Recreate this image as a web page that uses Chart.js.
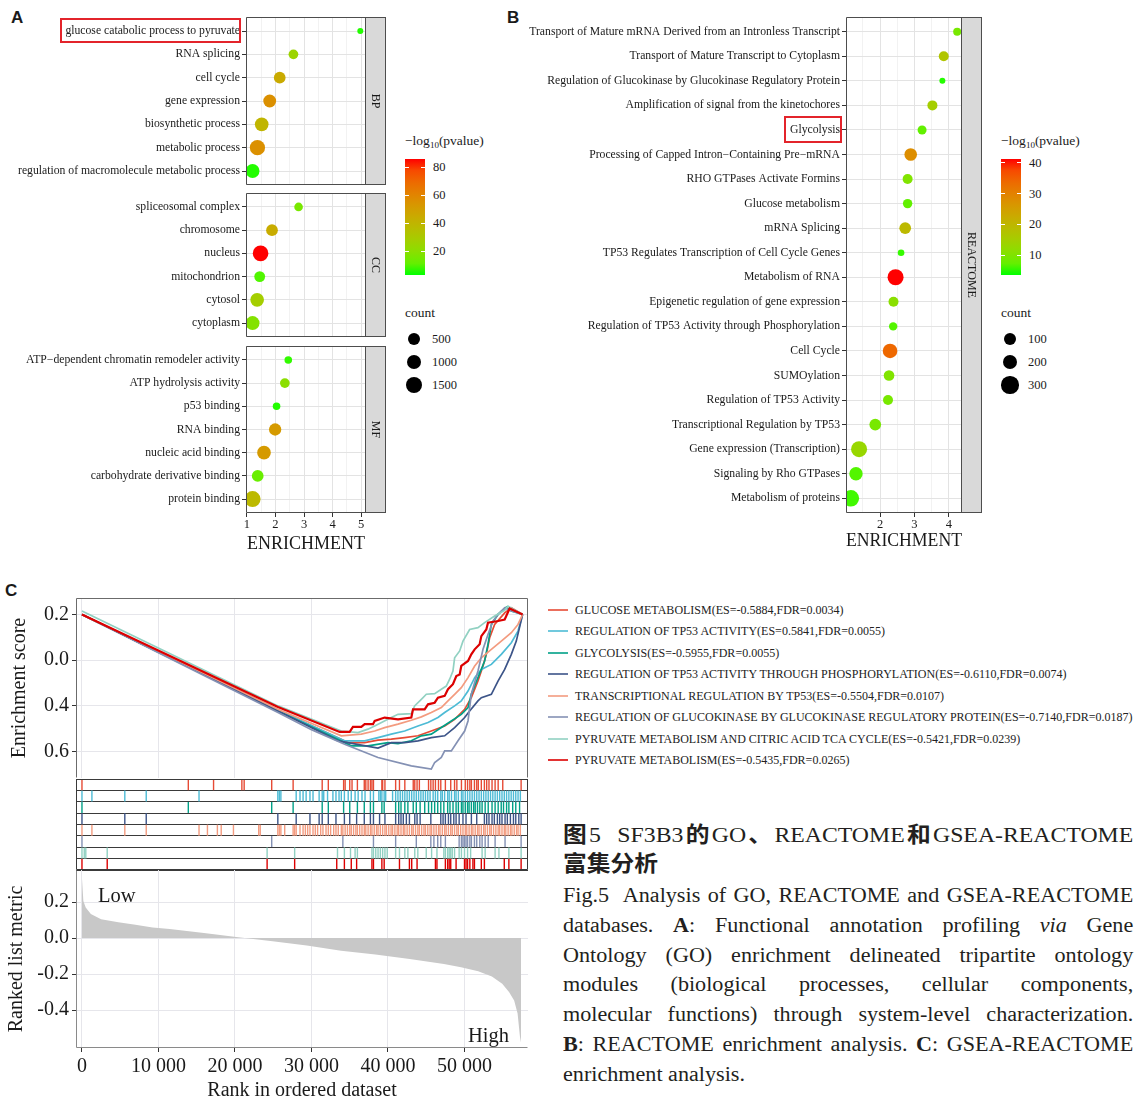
<!DOCTYPE html>
<html lang="zh-CN">
<head>
<meta charset="utf-8">
<title>Fig.5 SF3B3 GO / REACTOME / GSEA</title>
<script src="https://cdn.jsdelivr.net/npm/chart.js@4.4.1/dist/chart.umd.min.js"></script>
<style>
html,body{margin:0;padding:0;background:#ffffff;}
body{position:relative;width:1141px;height:1103px;overflow:hidden;font-family:"Liberation Serif","Times New Roman",serif;color:#1a1a1a;}
canvas{position:absolute;}
.t{position:absolute;white-space:nowrap;}
.cap{position:absolute;left:563px;width:528px;color:#231f20;transform:scaleX(1.08);transform-origin:0 0;}
.zh{font-size:22px;line-height:29px;height:29px;white-space:nowrap;}
.zh .k{font-family:"Noto Sans CJK SC",sans-serif;font-weight:bold;}
.en{font-size:20.5px;line-height:29.8px;height:29.8px;white-space:nowrap;}
.j{text-align:justify;text-align-last:justify;}
</style>
</head>
<body>
<script>
// ======================= DATA =======================
// Panel A : GO enrichment (BP / CC / MF)
const BP_TERMS  = ["glucose catabolic process to pyruvate","RNA splicing","cell cycle","gene expression","biosynthetic process","metabolic process","regulation of macromolecule metabolic process"];
const BP_ENRICH = [4.97, 2.63, 2.15, 1.80, 1.52, 1.37, 1.20];
const BP_PVAL   = [4, 25, 45, 56, 40, 56, 4];
const BP_COUNT  = [20, 200, 440, 620, 770, 1110, 800];

const CC_TERMS  = ["spliceosomal complex","chromosome","nucleus","mitochondrion","cytosol","cytoplasm"];
const CC_ENRICH = [2.81, 1.88, 1.48, 1.45, 1.36, 1.20];
const CC_PVAL   = [15, 44, 86, 8, 28, 18];
const CC_COUNT  = [110, 440, 1200, 320, 770, 820];

const MF_TERMS  = ["ATP\u2212dependent chromatin remodeler activity","ATP hydrolysis activity","p53 binding","RNA binding","nucleic acid binding","carbohydrate derivative binding","protein binding"];
const MF_ENRICH = [2.45, 2.33, 2.04, 1.99, 1.60, 1.38, 1.20];
const MF_PVAL   = [5, 20, 4, 52, 52, 12, 38];
const MF_COUNT  = [50, 200, 50, 530, 770, 440, 1300];

const GO_PVAL_LIMITS   = [3, 86];
const GO_COLOR_BREAKS  = [20, 40, 60, 80];
const GO_SIZE_BREAKS   = [500, 1000, 1500];
const GO_X_TICKS       = [1, 2, 3, 4, 5];
const GO_X_MINOR       = [1.5, 2.5, 3.5, 4.5];

// Panel B : REACTOME enrichment
const REAC_TERMS = ["Transport of Mature mRNA Derived from an Intronless Transcript","Transport of Mature Transcript to Cytoplasm","Regulation of Glucokinase by Glucokinase Regulatory Protein","Amplification of signal from the kinetochores","Glycolysis","Processing of Capped Intron\u2212Containing Pre\u2212mRNA","RHO GTPases Activate Formins","Glucose metabolism","mRNA Splicing","TP53 Regulates Transcription of Cell Cycle Genes","Metabolism of RNA","Epigenetic regulation of gene expression","Regulation of TP53 Activity through Phosphorylation","Cell Cycle","SUMOylation","Regulation of TP53 Activity","Transcriptional Regulation by TP53","Gene expression (Transcription)","Signaling by Rho GTPases","Metabolism of proteins"];
const REAC_ENRICH = [4.24, 3.85, 3.81, 3.52, 3.22, 2.89, 2.80, 2.80, 2.73, 2.61, 2.45, 2.39, 2.38, 2.29, 2.26, 2.23, 1.86, 1.39, 1.30, 1.15];
const REAC_PVAL   = [9, 17, 4, 15, 7, 28, 10, 7, 19.5, 4.5, 41.3, 11, 6, 34, 10, 9, 9, 13, 6, 5];
const REAC_COUNT  = [29, 56, 20, 56, 40, 117, 56, 46, 92, 21, 243, 56, 33, 185, 68, 56, 92, 243, 142, 270];
const REAC_PVAL_LIMITS  = [3.5, 41.3];
const REAC_COLOR_BREAKS = [10, 20, 30, 40];
const REAC_SIZE_BREAKS  = [100, 200, 300];
const REAC_X_TICKS      = [2, 3, 4];
const REAC_X_MINOR      = [1.5, 2.5, 3.5];

// Panel C : GSEA-REACTOME
const GSEA_SETS = [
  "GLUCOSE METABOLISM(ES=-0.5884,FDR=0.0034)",
  "REGULATION OF TP53 ACTIVITY(ES=0.5841,FDR=0.0055)",
  "GLYCOLYSIS(ES=-0.5955,FDR=0.0055)",
  "REGULATION OF TP53 ACTIVITY THROUGH PHOSPHORYLATION(ES=-0.6110,FDR=0.0074)",
  "TRANSCRIPTIONAL REGULATION BY TP53(ES=-0.5504,FDR=0.0107)",
  "REGULATION OF GLUCOKINASE BY GLUCOKINASE REGULATORY PROTEIN(ES=-0.7140,FDR=0.0187)",
  "PYRUVATE METABOLISM AND CITRIC ACID TCA CYCLE(ES=-0.5421,FDR=0.0239)",
  "PYRUVATE METABOLISM(ES=-0.5435,FDR=0.0265)"
];
// running enrichment score: [rank, ES]
const ES_GLUCOSE_METABOLISM = [[0,0],[25620,-0.420],[34770,-0.562],[36950,-0.562],[38690,-0.551],[40430,-0.547],[42180,-0.540],[43920,-0.532],[45660,-0.511],[47410,-0.489],[48710,-0.460],[50020,-0.416],[50890,-0.365],[51760,-0.292],[52420,-0.226],[52850,-0.175],[53290,-0.102],[53940,-0.044],[55250,0.007],[56120,0.029],[57600,0]];
const ES_REG_TP53 = [[0,0],[25620,-0.420],[34330,-0.554],[36950,-0.554],[38690,-0.540],[40430,-0.525],[42180,-0.511],[43920,-0.489],[45230,-0.474],[46530,-0.452],[47410,-0.430],[48710,-0.401],[49580,-0.379],[50460,-0.336],[51330,-0.277],[52200,-0.241],[53510,-0.219],[54810,-0.175],[56120,-0.124],[56990,-0.073],[57600,0]];
const ES_GLYCOLYSIS = [[0,0],[25620,-0.423],[35210,-0.576],[37380,-0.576],[40000,-0.562],[41310,-0.566],[43050,-0.554],[44360,-0.532],[45660,-0.525],[46970,-0.496],[48280,-0.467],[49580,-0.438],[50460,-0.408],[50890,-0.350],[51760,-0.277],[52630,-0.204],[53070,-0.131],[53510,-0.044],[54380,0],[55470,0.032],[56120,0.015],[57600,0]];
const ES_REG_TP53_PHOS = [[0,0],[25620,-0.423],[33460,-0.554],[38690,-0.586],[40430,-0.562],[42180,-0.562],[43920,-0.554],[45660,-0.540],[47410,-0.532],[48710,-0.496],[50020,-0.452],[50670,-0.423],[51760,-0.379],[52200,-0.365],[53510,-0.350],[54380,-0.292],[55250,-0.241],[56120,-0.175],[56770,-0.117],[57600,0]];
const ES_TRANSCRIPTIONAL_TP53 = [[0,0],[25620,-0.416],[33900,-0.532],[36510,-0.525],[38260,-0.511],[39560,-0.496],[41310,-0.481],[43050,-0.464],[44360,-0.449],[45660,-0.430],[46970,-0.408],[47840,-0.379],[48710,-0.350],[49580,-0.321],[50460,-0.277],[51330,-0.226],[52200,-0.190],[53510,-0.153],[54810,-0.117],[56120,-0.080],[56990,-0.044],[57600,0]];
const ES_GLUCOKINASE = [[0,0],[25620,-0.430],[30000,-0.505],[34330,-0.569],[38690,-0.627],[43050,-0.664],[45660,-0.678],[46100,-0.649],[46970,-0.627],[47410,-0.598],[48280,-0.598],[49150,-0.554],[50020,-0.511],[50460,-0.467],[50890,-0.350],[51760,-0.248],[52420,-0.153],[53070,-0.088],[53720,-0.029],[54380,0],[55250,0.029],[56120,0.015],[57600,0]];
const ES_PYRUVATE_TCA = [[0,0.015],[25620,-0.401],[33900,-0.511],[36080,-0.518],[37380,-0.503],[38260,-0.489],[40430,-0.452],[41310,-0.438],[43050,-0.435],[43480,-0.401],[44360,-0.372],[45010,-0.350],[46100,-0.347],[46970,-0.328],[47620,-0.314],[48060,-0.284],[48490,-0.248],[48710,-0.190],[49370,-0.160],[49800,-0.117],[50670,-0.066],[51760,-0.058],[52630,-0.036],[53940,-0.007],[55250,0.018],[55680,0.036],[57600,0]];
const ES_PYRUVATE = [[0,0],[25620,-0.406],[33680,-0.515],[34990,-0.515],[35420,-0.493],[36510,-0.493],[36950,-0.481],[38040,-0.481],[38260,-0.467],[39560,-0.452],[41310,-0.460],[43050,-0.452],[43270,-0.416],[44790,-0.416],[45230,-0.394],[46100,-0.387],[46530,-0.365],[47410,-0.357],[47840,-0.328],[48490,-0.306],[48930,-0.270],[49370,-0.263],[49580,-0.226],[50460,-0.204],[50890,-0.175],[51330,-0.153],[51980,-0.131],[52200,-0.095],[52850,-0.066],[53070,-0.036],[54380,-0.029],[55250,-0.022],[55900,0.026],[57600,0]];

// hit positions (rank) of genes of every set
const RUG_GLUCOSE_METABOLISM = [0,13900,17200,20900,21200,24800,27600,31400,32200,34200,34400,35000,35300,36000,36900,37100,37400,37700,37900,38100,39200,39300,39600,41000,41500,42200,43300,43500,43800,44100,45300,45600,45900,46200,46600,46900,47500,48200,48700,49000,49600,50100,50400,50700,50900,51300,51600,51800,52200,52600,52900,53200,53600,54000,54400,55000,57400];
const RUG_REG_TP53 = [0,1300,5600,8400,15300,25600,25800,26000,28000,28500,28900,29300,29800,30200,31000,31400,31600,32100,32800,33200,33600,33900,34300,34800,35200,35700,36100,36600,37000,37700,38100,38800,39000,39200,39500,39700,40600,41000,41300,41600,41900,42200,42500,42800,43100,43400,43700,44000,44300,44600,44900,45200,45500,45900,46200,46500,46900,47100,47400,47800,48000,48300,48700,48900,49200,49600,49800,50100,50400,50700,51000,51300,51600,51900,52200,52500,52800,53100,53400,53700,54000,54300,54600,54900,55200,55500,55800,56100,56400,56700,57000,57300];
const RUG_GLYCOLYSIS = [0,13900,24800,27600,31400,32200,34200,35000,36000,36900,37700,38100,39200,39500,41000,41400,41700,42200,42600,43300,43700,44200,44800,45300,45700,46100,46500,46900,47300,47800,48100,48500,48900,49200,49600,49800,50100,50400,50600,50900,51200,51400,51700,52000,52300,52700,53100,53600,54000,54400,54800,55100,55500,55800,56300,56700,57200];
const RUG_REG_TP53_PHOS = [0,5600,8400,25600,28000,29800,31000,31400,32200,33200,34300,35000,35900,36900,37700,38100,38900,39600,41000,41400,41700,42000,42400,42800,43500,43800,44200,45600,46900,47200,47500,47900,48200,48600,48900,49300,49800,50200,50900,51600,52600,52900,53200,53600,53900,54300,54600,54900,55300,55600,56000,56400,56700,57100,57400];
const RUG_TRANSCRIPTIONAL_TP53 = [0,1300,5600,8400,15300,16400,17700,18200,19800,23100,23300,25600,25800,26000,26500,27600,27800,28000,28500,28900,29200,29500,29800,30200,30500,30800,31200,31500,31900,32200,32500,32900,33200,33500,33900,34100,34400,34700,35000,35200,35500,35800,36000,36300,36600,36900,37100,37400,37700,37900,38200,38500,38700,39000,39300,39600,39800,40100,40400,40600,40900,41200,41400,41700,42000,42200,42500,42800,43100,43300,43600,43900,44100,44400,44700,44900,45200,45500,45700,46000,46300,46600,46800,47100,47400,47600,47900,48200,48400,48700,49000,49200,49500,49800,50100,50300,50600,50900,51100,51400,51700,51900,52200,52500,52700,53000,53300,53500,53800,54100,54400,54600,54900,55200,55400,55700,56000,56200,56500,56800,57000,57300];
const RUG_GLUCOKINASE = [0,24800,34100,38100,41000,43700,45600,46000,46500,46900,47500,49300,49600,49800,50000,50200,50400,50700,50900,51300,51600,52000,52300,52700,53100,54000,55300,57400];
const RUG_PYRUVATE_TCA = [0,300,500,3300,24200,27800,33400,34300,35100,35700,36000,37900,38100,38400,38700,39000,39300,39600,39900,41000,41500,42200,42600,43500,43900,45000,45700,46400,47300,47500,47800,48000,48200,48400,48700,49300,49600,50000,50400,50800,52300,52700,54000,54500,55800,57400];
const RUG_PYRUVATE = [0,3300,24200,27800,33300,34300,35200,35900,37900,38100,39200,39500,41500,42800,43100,43800,46200,46400,47500,47800,48000,48200,48900,50000,50200,50400,50700,51100,51300,52200,52600,55200,55800,57400];

// ranked list metric: [rank] -> metric
const METRIC_RANK  = [0,180,490,1160,2500,4750,6990,9230,11470,15950,20430,24910,29390,33870,38350,42830,47310,49550,51790,53580,54930,55820,56490,56940,57250,57390];
const METRIC_VALUE = [0.332,0.206,0.170,0.133,0.105,0.087,0.074,0.059,0.050,0.028,0.004,-0.018,-0.042,-0.070,-0.092,-0.116,-0.144,-0.162,-0.184,-0.214,-0.254,-0.300,-0.347,-0.420,-0.549,-0.581];

const RANK_TICKS      = [0,10000,20000,30000,40000,50000];
const RANK_TICK_TEXT  = ["0","10 000","20 000","30 000","40 000","50 000"];
const ES_TICK_VALUES  = [0,-0.2,-0.4,-0.6];
const ES_TICK_TEXT    = ["0.2","0.0","0.4","0.6"];
const METRIC_TICKS    = [0.2,0,-0.2,-0.4];

// ======================= STYLE =======================
const SERIF = '"Liberation Serif", "Times New Roman", serif';
const NPG = ["#E64B35","#4DBBD5","#00A087","#3C5488","#F39B7F","#8491B4","#91D1C2","#DC0000"];
Chart.defaults.font.family = SERIF;
Chart.defaults.color = '#1a1a1a';

// Lab-space gradient green -> red (as ggplot scale_color_gradient)
function toLin(c){c/=255;return c<=0.04045?c/12.92:Math.pow((c+0.055)/1.055,2.4);}
function toSrgb(v){v=v<=0.0031308?12.92*v:1.055*Math.pow(v,1/2.4)-0.055;return Math.round(Math.max(0,Math.min(1,v))*255);}
function rgb2lab(r,g,b){
  const R=toLin(r),G=toLin(g),B=toLin(b);
  const X=(0.4124*R+0.3576*G+0.1805*B)/0.95047, Y=0.2126*R+0.7152*G+0.0722*B, Z=(0.0193*R+0.1192*G+0.9505*B)/1.08883;
  const f=t=>t>0.008856?Math.cbrt(t):7.787*t+16/116;
  const fx=f(X),fy=f(Y),fz=f(Z);
  return [116*fy-16,500*(fx-fy),200*(fy-fz)];
}
function lab2rgb(L,a,b){
  const fy=(L+16)/116, fx=fy+a/500, fz=fy-b/200;
  const fi=t=>t*t*t>0.008856?t*t*t:(t-16/116)/7.787;
  const X=fi(fx)*0.95047, Y=fi(fy), Z=fi(fz)*1.08883;
  const R=3.2406*X-1.5372*Y-0.4986*Z, G=-0.9689*X+1.8758*Y+0.0415*Z, B=0.0557*X-0.2040*Y+1.0570*Z;
  return 'rgb('+toSrgb(R)+','+toSrgb(G)+','+toSrgb(B)+')';
}
const LAB_LO=rgb2lab(0,255,0), LAB_HI=rgb2lab(255,0,0);
function gradT(t){t=Math.max(0,Math.min(1,t));return lab2rgb(LAB_LO[0]+(LAB_HI[0]-LAB_LO[0])*t,LAB_LO[1]+(LAB_HI[1]-LAB_LO[1])*t,LAB_LO[2]+(LAB_HI[2]-LAB_LO[2])*t);}
function gradColor(v,lim){return gradT((v-lim[0])/(lim[1]-lim[0]));}
const sizeGO   = c => 3 + 0.14*Math.sqrt(Math.max(c-20,0));
const sizeREAC = c => 3 + 0.335*Math.sqrt(Math.max(c-20,0));

// ======================= HELPERS =======================
function makeCanvas(left,top,w,h){
  const c=document.createElement('canvas');
  c.width=w;c.height=h;
  c.style.left=left+'px';c.style.top=top+'px';c.style.width=w+'px';c.style.height=h+'px';
  document.body.appendChild(c);return c;
}
function addText(html,left,cy,size,extra){
  const d=document.createElement('div');d.className='t';
  const h=Math.round(size*1.3);
  d.style.cssText='left:'+left+'px;top:'+(cy-h/2)+'px;height:'+h+'px;line-height:'+h+'px;font-size:'+size+'px;'+(extra||'');
  d.innerHTML=html;document.body.appendChild(d);return d;
}
function addBox(l,t,w,h,css){const d=document.createElement('div');d.style.cssText='position:absolute;left:'+l+'px;top:'+t+'px;width:'+w+'px;height:'+h+'px;'+css;document.body.appendChild(d);return d;}

const frame={
  id:'frame',
  afterDatasetsDraw(chart,args,o){
    if(!o||!o.color)return;
    const {ctx,chartArea:a}=chart;
    ctx.save();
    const L=Math.round(a.left)+0.5,T=Math.round(a.top)+0.5,R=Math.round(a.right)-0.5,B=Math.round(a.bottom)-0.5;
    if(o.strip){
      const sw=o.stripW;
      ctx.fillStyle='#D9D9D9';ctx.fillRect(R,T,sw,B-T);
      ctx.strokeStyle=o.color;ctx.lineWidth=1;ctx.strokeRect(R,T,sw,B-T);
      ctx.save();ctx.translate(R+sw/2,(T+B)/2);ctx.rotate(Math.PI/2);
      ctx.fillStyle='#1a1a1a';ctx.font='12px '+SERIF;ctx.textAlign='center';ctx.textBaseline='middle';
      ctx.fillText(o.strip,0,0);ctx.restore();
    }
    ctx.strokeStyle=o.color;ctx.lineWidth=o.width||1;
    const s=o.sides||'tlbr';
    ctx.beginPath();
    if(s.includes('t')){ctx.moveTo(L,T);ctx.lineTo(R,T);}
    if(s.includes('b')){ctx.moveTo(L,B);ctx.lineTo(R,B);}
    if(s.includes('l')){ctx.moveTo(L,T);ctx.lineTo(L,B);}
    if(s.includes('r')){ctx.moveTo(R,T);ctx.lineTo(R,B);}
    ctx.stroke();
    ctx.restore();
  }
};

function dotFacet(o){
  const c=makeCanvas(o.left,o.top,o.w,o.h);
  const padT=o.area.t-o.top, padR=o.left+o.w-o.area.r, yW=o.area.l-o.left;
  const xH=o.xTitle?(o.top+o.h-o.area.b):0;
  const padB=o.xTitle?0:(o.top+o.h-o.area.b);
  const n=o.terms.length;
  const ticksX=o.major.concat(o.minor).sort((a,b)=>a-b);
  const isMajor=v=>o.major.includes(v);
  return new Chart(c,{
    type:'scatter',
    data:{datasets:[{
      data:o.terms.map((t,i)=>({x:o.enrich[i],y:i})),
      pointRadius:ctx=>o.sizeFn(o.count[ctx.dataIndex]),
      pointHoverRadius:ctx=>o.sizeFn(o.count[ctx.dataIndex]),
      pointBackgroundColor:ctx=>gradColor(o.pval[ctx.dataIndex],o.lim),
      pointBorderWidth:0,pointHoverBorderWidth:0,pointBorderColor:'rgba(0,0,0,0)'
    }]},
    options:{
      responsive:false,animation:false,devicePixelRatio:1,events:[],
      layout:{autoPadding:false,padding:{left:0,top:padT,right:padR,bottom:padB}},
      plugins:{legend:{display:false},tooltip:{enabled:false},frame:{color:'#4d4d4d',width:1,sides:'tlbr',strip:o.strip,stripW:o.stripW}},
      scales:{
        x:{type:'linear',min:o.xmin,max:o.xmax,
          afterBuildTicks:s=>{s.ticks=ticksX.map(v=>({value:v}));},
          afterFit:s=>{s.height=xH;s.paddingLeft=0;s.paddingRight=0;},
          border:{display:false},
          grid:{color:ctx=>(ctx.tick&&isMajor(ctx.tick.value))?'#E3E3E3':'#F2F2F2',lineWidth:1,drawTicks:!!o.xTitle,tickLength:4,
            tickColor:ctx=>(ctx.tick&&isMajor(ctx.tick.value))?'#333333':'rgba(0,0,0,0)'},
          ticks:{display:!!o.xTitle,autoSkip:false,maxRotation:0,padding:0,color:'#1a1a1a',font:{family:SERIF,size:12.5},
            callback:v=>isMajor(v)?String(v):''},
          title:{display:!!o.xTitle,text:o.xTitle||'',color:'#1a1a1a',font:{family:SERIF,size:18},padding:{top:0,bottom:o.titlePB||0}}
        },
        y:{type:'linear',reverse:true,min:-0.6,max:n-0.4,
          afterBuildTicks:s=>{s.ticks=o.terms.map((t,i)=>({value:i}));},
          afterFit:s=>{s.width=yW;s.paddingTop=0;s.paddingBottom=0;},
          border:{display:false},
          grid:{color:'#E3E3E3',lineWidth:1,drawTicks:true,tickLength:4,tickColor:'#333333'},
          ticks:{autoSkip:false,padding:2,color:'#1a1a1a',font:{family:SERIF,size:11.7},callback:v=>o.terms[v]}
        }
      }
    },
    plugins:[frame]
  });
}

function gradientLegend(left,lim,breaks,sizeBreaks,sizeFn){
  addText('&minus;log<span style="font-size:9px;position:relative;top:3px">10</span>(pvalue)',left,141,13.5);
  const barTop=159,barH=116,barW=20;
  const stops=[];for(let k=0;k<=10;k++){stops.push(gradT(k/10)+' '+(k*10)+'%');}
  addBox(left,barTop,barW,barH,'background:linear-gradient(to top,'+stops.join(',')+');');
  breaks.forEach(v=>{
    const y=barTop+(lim[1]-v)/(lim[1]-lim[0])*barH;
    addBox(left,y-0.5,4,1,'background:#fff;');
    addBox(left+barW-4,y-0.5,4,1,'background:#fff;');
    addText(String(v),left+28,y,12.5);
  });
  addText('count',left,313,13.5);
  const ys=[339,362,385];
  sizeBreaks.forEach((v,i)=>{
    const r=sizeFn(v);
    addBox(left+9-r,ys[i]-r,2*r,2*r,'background:#000;border-radius:50%;');
    addText(String(v),left+27,ys[i],12.5);
  });
}

// ======================= PANEL A =======================
addText('A',11,18,17,'font-family:"Liberation Sans",Arial,sans-serif;font-weight:bold;');
const GO_COMMON={left:0,w:392,xmin:0.97,xmax:5.17,major:GO_X_TICKS,minor:GO_X_MINOR,lim:GO_PVAL_LIMITS,sizeFn:sizeGO,stripW:20};
dotFacet(Object.assign({},GO_COMMON,{top:0,h:190,area:{l:246,r:366,t:17,b:185},terms:BP_TERMS,enrich:BP_ENRICH,pval:BP_PVAL,count:BP_COUNT,strip:'BP'}));
dotFacet(Object.assign({},GO_COMMON,{top:188,h:152,area:{l:246,r:366,t:193,b:337},terms:CC_TERMS,enrich:CC_ENRICH,pval:CC_PVAL,count:CC_COUNT,strip:'CC'}));
dotFacet(Object.assign({},GO_COMMON,{top:341,h:219,area:{l:246,r:366,t:346,b:513},terms:MF_TERMS,enrich:MF_ENRICH,pval:MF_PVAL,count:MF_COUNT,strip:'MF',xTitle:'ENRICHMENT',titlePB:5}));
addBox(60,18,181,25,'border:2px solid #E3242B;box-sizing:border-box;');
gradientLegend(405,GO_PVAL_LIMITS,GO_COLOR_BREAKS,GO_SIZE_BREAKS,sizeGO);

// ======================= PANEL B =======================
addText('B',507,18,17,'font-family:"Liberation Sans",Arial,sans-serif;font-weight:bold;');
dotFacet({left:500,top:0,w:490,h:560,area:{l:846,r:962,t:17,b:513},xmin:1.01,xmax:4.38,major:REAC_X_TICKS,minor:REAC_X_MINOR,
  lim:REAC_PVAL_LIMITS,sizeFn:sizeREAC,stripW:20,terms:REAC_TERMS,enrich:REAC_ENRICH,pval:REAC_PVAL,count:REAC_COUNT,strip:'REACTOME',xTitle:'ENRICHMENT',titlePB:8});
addBox(784,116,58,27,'border:2px solid #E3242B;box-sizing:border-box;');
gradientLegend(1001,REAC_PVAL_LIMITS,REAC_COLOR_BREAKS,REAC_SIZE_BREAKS,sizeREAC);

// ======================= PANEL C =======================
addText('C',5,591,17,'font-family:"Liberation Sans",Arial,sans-serif;font-weight:bold;');
const RANK_MIN=-780, RANK_MAX=58300;
const ES_ALL=[ES_GLUCOSE_METABOLISM,ES_REG_TP53,ES_GLYCOLYSIS,ES_REG_TP53_PHOS,ES_TRANSCRIPTIONAL_TP53,ES_GLUCOKINASE,ES_PYRUVATE_TCA,ES_PYRUVATE];
const RUG_ALL=[RUG_GLUCOSE_METABOLISM,RUG_REG_TP53,RUG_GLYCOLYSIS,RUG_REG_TP53_PHOS,RUG_TRANSCRIPTIONAL_TP53,RUG_GLUCOKINASE,RUG_PYRUVATE_TCA,RUG_PYRUVATE];

(function(){
  const c=makeCanvas(0,590,540,190);
  new Chart(c,{type:'scatter',
    data:{datasets:ES_ALL.map((pts,i)=>({label:GSEA_SETS[i],data:pts.map(p=>({x:p[0],y:p[1]})),showLine:true,
      borderColor:NPG[i],borderWidth:i===7?2.2:1.7,pointRadius:0,tension:0,order:7-i,fill:false}))},
    options:{responsive:false,animation:false,devicePixelRatio:1,events:[],
      layout:{autoPadding:false,padding:{left:0,top:8,right:12,bottom:2}},
      plugins:{legend:{display:false},tooltip:{enabled:false},frame:{color:'#6b6b6b',width:1,sides:'tlr'}},
      scales:{
        x:{type:'linear',min:RANK_MIN,max:RANK_MAX,afterBuildTicks:s=>{s.ticks=RANK_TICKS.map(v=>({value:v}));},
          afterFit:s=>{s.height=0;s.paddingLeft=0;s.paddingRight=0;},border:{display:false},
          grid:{color:'#E6E6EB',drawTicks:false},ticks:{display:false}},
        y:{type:'linear',min:-0.717,max:0.072,afterBuildTicks:s=>{s.ticks=ES_TICK_VALUES.map(v=>({value:v}));},
          afterFit:s=>{s.width=76;s.paddingTop=0;s.paddingBottom=0;},border:{display:false},
          grid:{color:'#E6E6EB',tickLength:4,tickColor:'#333'},
          ticks:{padding:3,color:'#1a1a1a',font:{family:SERIF,size:20},callback:v=>ES_TICK_TEXT[ES_TICK_VALUES.indexOf(v)]},
          title:{display:true,text:'Enrichment score',color:'#1a1a1a',font:{family:SERIF,size:20},padding:{top:8,bottom:0}}}
      }},plugins:[frame]});
})();

(function(){
  const c=makeCanvas(0,776,540,97);
  new Chart(c,{type:'scatter',
    data:{datasets:RUG_ALL.map((ranks,i)=>({label:GSEA_SETS[i],data:ranks.map(r=>({x:r,y:i+0.5})),
      pointStyle:'line',pointRotation:90,pointRadius:5.5,pointBorderColor:NPG[i],pointBorderWidth:1.4,pointBackgroundColor:NPG[i]}))},
    options:{responsive:false,animation:false,devicePixelRatio:1,events:[],
      layout:{autoPadding:false,padding:{left:0,top:3,right:12,bottom:3}},
      plugins:{legend:{display:false},tooltip:{enabled:false},frame:{color:'#3a3a3a',width:1,sides:'tlbr'}},
      scales:{
        x:{type:'linear',min:RANK_MIN,max:RANK_MAX,afterFit:s=>{s.height=0;s.paddingLeft=0;s.paddingRight=0;},
          border:{display:false},grid:{display:false},ticks:{display:false}},
        y:{type:'linear',reverse:true,min:0,max:8,afterBuildTicks:s=>{s.ticks=[0,1,2,3,4,5,6,7,8].map(v=>({value:v}));},
          afterFit:s=>{s.width=76;s.paddingTop=0;s.paddingBottom=0;},border:{display:false},
          grid:{color:'#3a3a3a',drawTicks:false},ticks:{display:false}}
      }},plugins:[frame]});
})();

(function(){
  const c=makeCanvas(0,866,540,237);
  new Chart(c,{type:'line',
    data:{datasets:[{label:'ranked list metric',data:METRIC_RANK.map((r,i)=>({x:r,y:METRIC_VALUE[i]})),
      fill:'origin',backgroundColor:'#C8C8C8',borderColor:'#C8C8C8',borderWidth:0,pointRadius:0,tension:0}]},
    options:{responsive:false,animation:false,devicePixelRatio:1,events:[],
      layout:{autoPadding:false,padding:{left:0,top:4,right:12,bottom:0}},
      plugins:{legend:{display:false},tooltip:{enabled:false},frame:{color:'#8a8a8a',width:1,sides:'lb'}},
      scales:{
        x:{type:'linear',min:RANK_MIN,max:RANK_MAX,afterBuildTicks:s=>{s.ticks=RANK_TICKS.map(v=>({value:v}));},
          afterFit:s=>{s.height=55;s.paddingLeft=0;s.paddingRight=0;},border:{display:false},
          grid:{color:'#E6E6EB',tickLength:4,tickColor:'#333'},
          ticks:{autoSkip:false,maxRotation:0,padding:3,color:'#1a1a1a',font:{family:SERIF,size:20},callback:v=>RANK_TICK_TEXT[RANK_TICKS.indexOf(v)]},
          title:{display:true,text:'Rank in ordered dataset',color:'#1a1a1a',font:{family:SERIF,size:20},padding:{top:0,bottom:0}}},
        y:{type:'linear',min:-0.611,max:0.378,afterBuildTicks:s=>{s.ticks=METRIC_TICKS.map(v=>({value:v}));},
          afterFit:s=>{s.width=76;s.paddingTop=0;s.paddingBottom=0;},border:{display:false},
          grid:{color:'#E6E6EB',tickLength:4,tickColor:'#333'},
          ticks:{padding:3,color:'#1a1a1a',font:{family:SERIF,size:20},callback:v=>v.toFixed(1)},
          title:{display:true,text:'Ranked list metric',color:'#1a1a1a',font:{family:SERIF,size:20},padding:{top:5,bottom:0}}}
      }},plugins:[frame]});
})();
addText('Low',98,895,20.5);
addText('High',468,1035,20.5);

// legend of panel C
const LEG_Y=[610,631,653,674,696,717,739,760];
GSEA_SETS.forEach((s,i)=>{
  addBox(548,LEG_Y[i]-1,20,2,'background:'+NPG[i]+';opacity:0.8;');
  addText(s,575,LEG_Y[i],12,'color:#222;');
});

// ======================= CAPTION =======================
(function(){
  const cap=document.createElement('div');cap.className='cap';cap.style.top='818px';
  cap.innerHTML=
    '<div class="zh j"><span class="k">图</span>5&nbsp; SF3B3<span class="k">的</span>GO<span class="k">、</span>REACTOME<span class="k">和</span>GSEA-REACTOME</div>'+
    '<div class="zh"><span class="k">富集分析</span></div>'+
    '<div style="height:5px"></div>'+
    '<div class="en j">Fig.5&nbsp; Analysis of GO, REACTOME and GSEA-REACTOME</div>'+
    '<div class="en j">databases. <b>A</b>: Functional annotation profiling <i>via</i> Gene</div>'+
    '<div class="en j">Ontology (GO) enrichment delineated tripartite ontology</div>'+
    '<div class="en j">modules (biological processes, cellular components,</div>'+
    '<div class="en j">molecular functions) through system-level characterization.</div>'+
    '<div class="en j"><b>B</b>: REACTOME enrichment analysis. <b>C</b>: GSEA-REACTOME</div>'+
    '<div class="en">enrichment analysis.</div>';
  document.body.appendChild(cap);
})();
</script>
</body>
</html>
